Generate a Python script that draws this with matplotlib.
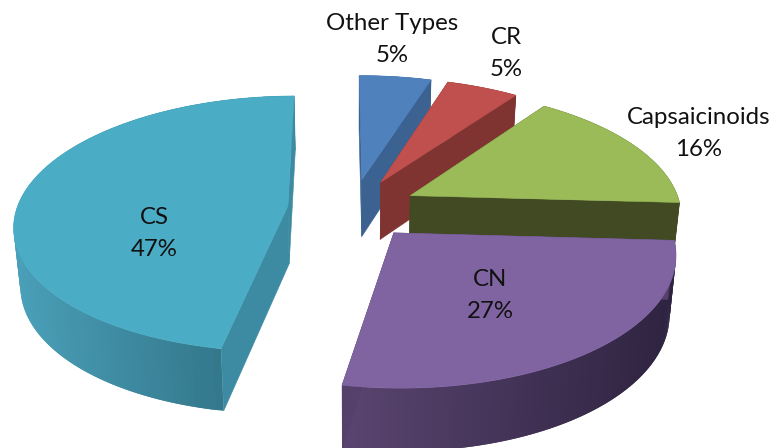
"""
Exploded 3D pie of riot control agent types, drawn as polygons in perspective
"""
import numpy as np
import matplotlib
matplotlib.use("Agg")
import matplotlib.pyplot as plt
from matplotlib.patches import Polygon
from matplotlib.colors import to_rgb

# data, clockwise from the top
names = ["Other Types", "CR", "Capsaicinoids", "CN", "CS"]
shares = [5, 5, 16, 27, 47]

# colours
top_colors = ["#4f81bd", "#c0504d", "#9bbb59", "#8064a2", "#4bacc6"]
side_colors = ["#3b6291", "#7f3432", "#414a22", "#55406c", "#3c8ba2"]
rim_light = ["#3b6291", "#7f3432", "#414a22", "#5a4570", "#4aa0b9"]
rim_dark = ["#2c4a6e", "#5f2725", "#30371a", "#2e2340", "#2c6a7c"]

# label places in pixels (x, name y, percent y)
label_x = [392, 506, 699, 490, 154]
label_y1 = [24, 38, 118, 279, 218]
label_y2 = [56, 70, 150, 312, 250]

# projection of the pie plane
X0 = 352.5   # centre
Y0 = 208.5
rx = 271.    # radii
ry = 126.
k = 0.14     # perspective
expl = 0.24  # explosion in units of the radius
rot = np.radians(-0.4)
depth = 58.
k_d = 0.07
m_bot = 0.98 # lower face is slightly narrower


def top(u, v):
    s = 1 + k*v
    return X0 + rx*u/s, Y0 - ry*v/s


def bottom(u, v):
    x, y = top(u, v)
    return X0 + (x - X0)*m_bot, y + depth/(1 + k_d*v)


def mix(c1, c2, t):
    c1, c2 = np.array(to_rgb(c1)), np.array(to_rgb(c2))
    return tuple(c1 + (c2 - c1)*t)


fig = plt.figure(figsize=(7.75, 4.48), dpi=100)
ax = fig.add_axes([0, 0, 1, 1])
ax.set_xlim(0, 775)
ax.set_ylim(448, 0)
ax.axis("off")

edges = np.cumsum([0] + shares)/np.sum(shares)*2*np.pi + rot

for i in range(len(shares)):
    a0, a1 = edges[i], edges[i + 1]
    mid = (a0 + a1)/2
    ue, ve = expl*np.sin(mid), expl*np.cos(mid)
    th = np.linspace(a0, a1, 121)
    u = ue + np.sin(th)
    v = ve + np.cos(th)
    xt, yt = top(u, v)
    xb, yb = bottom(u, v)
    xat, yat = top(ue, ve)
    xab, yab = bottom(ue, ve)

    # outer rim, shaded from left to right, quads overlap to hide the seams
    for j in range(len(th) - 1):
        j2 = min(j + 2, len(th) - 1)
        t = (xt[j] - xt.min())/(xt.max() - xt.min())
        c = mix(rim_light[i], rim_dark[i], t)
        ax.add_patch(Polygon([(xt[j], yt[j]), (xt[j2], yt[j2]),
                              (xb[j2], yb[j2]), (xb[j], yb[j])],
                             fc=c, ec="none", lw=0))

    # straight cut walls
    for j in [0, -1]:
        ax.add_patch(Polygon([(xat, yat), (xt[j], yt[j]), (xb[j], yb[j]), (xab, yab)],
                             fc=side_colors[i], ec=side_colors[i], lw=0.4))

    # top face
    ax.add_patch(Polygon(np.column_stack([np.r_[xat, xt], np.r_[yat, yt]]),
                         fc=top_colors[i], ec=top_colors[i], lw=0.4))

for i in range(len(names)):
    ax.text(label_x[i], label_y1[i], names[i], family="Lato", fontsize=17.3,
            color="#111111", ha="center", va="center")
    ax.text(label_x[i], label_y2[i], "{}%".format(shares[i]), family="Lato", fontsize=17.3,
            color="#111111", ha="center", va="center")

fig.savefig("out.png", dpi=100)
